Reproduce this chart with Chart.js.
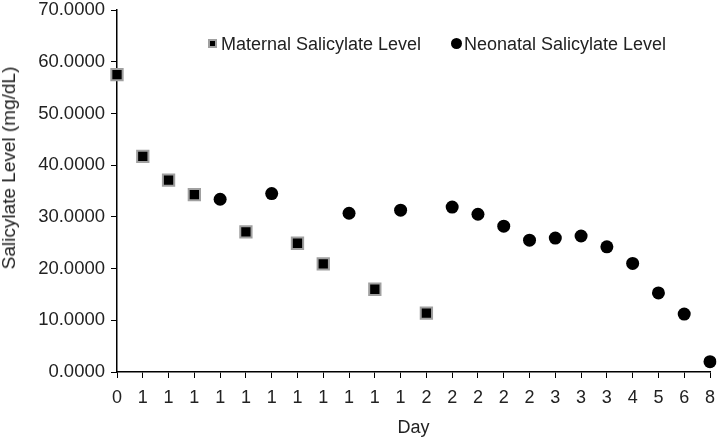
<!DOCTYPE html>
<html>
<head>
<meta charset="utf-8">
<script src="https://cdn.jsdelivr.net/npm/chart.js@4/dist/chart.umd.min.js"></script>
<style>
  html, body { margin: 0; padding: 0; background: #fff; }
  #wrap { position: relative; width: 720px; height: 440px; }
  .lbl {
    position: absolute;
    font: 18px 'Liberation Sans', Arial, sans-serif; color: #222;
    white-space: nowrap; line-height: 20px;
  }
  .sq { position: absolute; left: 208px; top: 39px; width: 5px; height: 5px; background: #000; border: 2px solid #a0a0a0; }
  .dot { position: absolute; left: 451px; top: 38px; width: 11px; height: 11px; background: #000; border-radius: 50%; }
  #ytitle {
    position: absolute; left: 9px; top: 168px;
    transform: translate(-50%, -50%) rotate(-90deg);
    font-size: 19px;
  }
</style>
</head>
<body>
<div id="wrap">
  <canvas id="chart" width="720" height="440"></canvas>
  <span class="sq"></span><span class="lbl" style="left:221px; top:34px">Maternal Salicylate Level</span>
  <span class="dot"></span><span class="lbl" style="left:464px; top:34px">Neonatal Salicylate Level</span>
  <div class="lbl" id="ytitle">Salicylate Level (mg/dL)</div>
</div>
<script>
// Jours (axe des catégories)
const days = ['0', '1', '1', '1', '1', '1', '1', '1', '1', '1', '1', '1',
              '2', '2', '2', '2', '2', '3', '3', '3', '4', '5', '6', '8'];

// Niveaux (mg/dL)
const maternal = [57.5, 41.7, 37.1, 34.3, null, 27.1, null, 24.9, 20.9, null, 16.0, null,
                  11.4, null, null, null, null, null, null, null, null, null, null, null];
const neonatal = [null, null, null, null, 33.4, null, 34.5, null, null, 30.7, null, 31.3,
                  null, 31.9, 30.5, 28.2, 25.5, 25.9, 26.3, 24.2, 21.0, 15.3, 11.2, 2.0];

const yTicks = [0, 10, 20, 30, 40, 50, 60, 70];

const fontFamily = "'Liberation Sans', Arial, sans-serif";
const textColor = '#222';

const ctx = document.getElementById('chart').getContext('2d');
new Chart(ctx, {
    type: 'line',
    data: {
        labels: days,
        datasets: [{
            label: 'Maternal Salicylate Level',
            data: maternal,
            showLine: false,
            pointStyle: 'rect',
            pointRadius: 8,
            backgroundColor: '#000',
            borderColor: '#a0a0a0',
            borderWidth: 2
        }, {
            label: 'Neonatal Salicylate Level',
            data: neonatal,
            showLine: false,
            pointStyle: 'circle',
            pointRadius: 6.5,
            backgroundColor: '#000',
            borderColor: '#000',
            borderWidth: 0
        }]
    },
    options: {
        responsive: false,
        animation: false,
        layout: { padding: 0 },
        plugins: {
            legend: { display: false },
            tooltip: { enabled: false }
        },
        scales: {
            x: {
                type: 'category',
                offset: false,
                grid: { drawOnChartArea: false, drawTicks: true, tickLength: 6, color: '#000' },
                border: { display: true, color: '#000', width: 1.5 },
                ticks: {
                    autoSkip: false, maxRotation: 0, minRotation: 0,
                    color: textColor, font: { family: fontFamily, size: 18 }, padding: 9
                },
                title: {
                    display: true, text: 'Day', color: textColor,
                    font: { family: fontFamily, size: 18, lineHeight: 1 },
                    padding: { top: 0, bottom: 3 }
                },
                afterFit: function(scale) {
                    scale.height = 68;
                    scale.paddingLeft = 0;
                    scale.paddingRight = 8;
                }
            },
            y: {
                min: 0,
                max: 70,
                afterBuildTicks: function(scale) {
                    scale.ticks = yTicks.map(v => ({ value: v }));
                },
                grid: { drawOnChartArea: false, drawTicks: true, tickLength: 6, color: '#000' },
                border: { display: true, color: '#000', width: 1.5 },
                ticks: {
                    color: textColor, font: { family: fontFamily, size: 18.5 }, padding: 6,
                    callback: function(value) { return Number(value).toFixed(4); }
                },
                afterFit: function(scale) {
                    scale.width = 117;
                    scale.paddingTop = 10;
                    scale.paddingBottom = 0;
                }
            }
        }
    }
});
</script>
</body>
</html>
